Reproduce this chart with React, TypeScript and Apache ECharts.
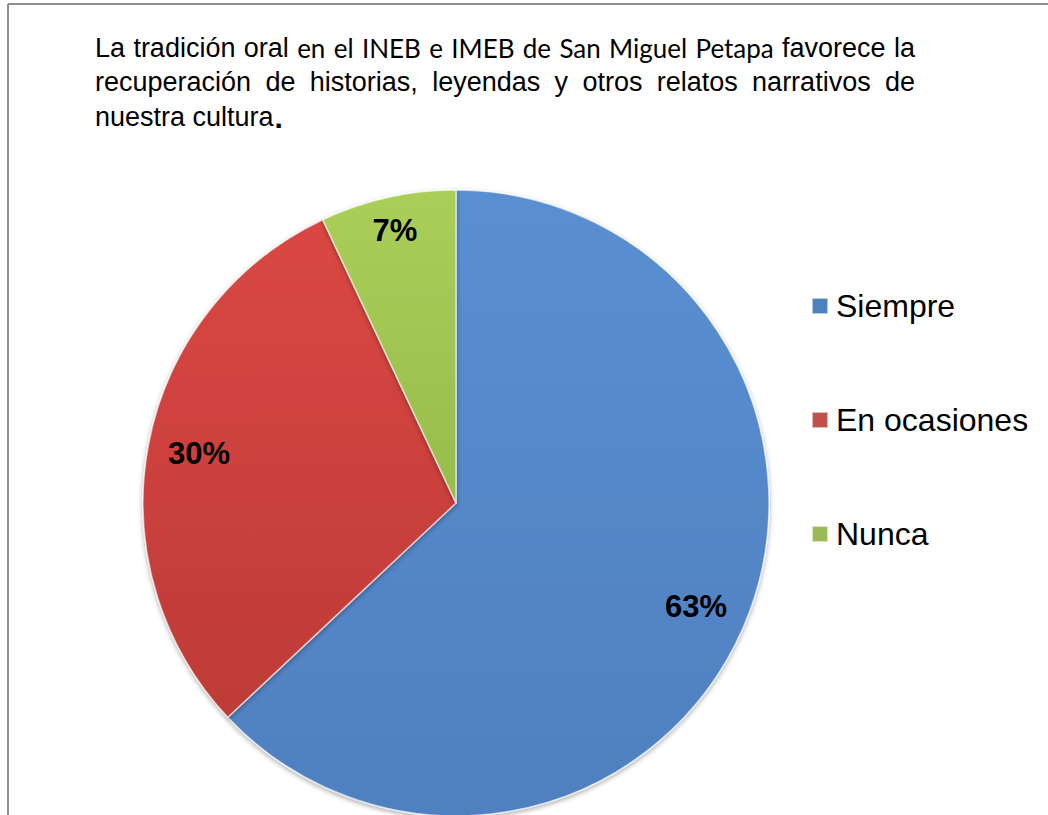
import React, { useEffect, useRef } from "react";
import * as echarts from "echarts";

const categories = ["Siempre", "En ocasiones", "Nunca"];
const values = [63, 30, 7];
const colorsTop = ["#5A8FD2", "#DA4743", "#AACE58"];
const colorsBottom = ["#4F80C0", "#BE3B38", "#98BC4C"];
const legendColors = ["#4F81BD", "#C0504D", "#9BBB59"];

const line1A = ["La", "tradición", "oral"];
const line1B = ["en", "el", "INEB", "e", "IMEB", "de", "San", "Miguel", "Petapa"];
const line1C = ["favorece", "la"];
const line2 = ["recuperación", "de", "historias,", "leyendas", "y", "otros", "relatos", "narrativos", "de"];
const line3 = "nuestra cultura";
const line3End = ".";

const ARIAL = "Arial, 'Liberation Sans', sans-serif";
const CALIBRI = "Lato, 'Noto Sans', sans-serif";

type Word = { text: string; family: string; size: number; weight?: string };

function measure(w: Word): number {
  const ctx = document.createElement("canvas").getContext("2d")!;
  ctx.font = `${w.weight || "normal"} ${w.size}px ${w.family}`;
  return ctx.measureText(w.text).width;
}

function justify(words: Word[], x0: number, x1: number, y: number) {
  const widths = words.map(measure);
  const total = widths.reduce((a, b) => a + b, 0);
  const gap = (x1 - x0 - total) / (words.length - 1);
  let x = x0;
  return words.map((w, i) => {
    const el = {
      type: "text",
      x,
      y,
      style: {
        text: w.text,
        fontFamily: w.family,
        fontSize: w.size,
        fontWeight: w.weight || "normal",
        fill: "#000",
        align: "left",
        verticalAlign: "middle",
      },
    };
    x += widths[i] + gap;
    return el;
  });
}

export default function App() {
  const ref = useRef<HTMLDivElement>(null);
  useEffect(() => {
    if (!ref.current) return;
    const chart = echarts.init(ref.current, undefined, { renderer: "svg" });
    const TX0 = 95;
    const TX1 = 915;
    const TS = 27;
    // Calibri-like run: size chosen so its natural width matches Calibri metrics (~16.25em)
    const calWidth = measure({ text: line1B.join(" "), family: CALIBRI, size: TS });
    const calSize = (TS * (16.25 * 28.5)) / calWidth;
    const w1: Word[] = [
      ...line1A.map((t) => ({ text: t, family: ARIAL, size: TS })),
      ...line1B.map((t) => ({ text: t, family: CALIBRI, size: calSize })),
      ...line1C.map((t) => ({ text: t, family: ARIAL, size: TS })),
    ];
    const w2: Word[] = line2.map((t) => ({ text: t, family: ARIAL, size: TS }));
    const l3w = measure({ text: line3, family: ARIAL, size: TS });
    const elements: any[] = [
      { type: "line", shape: { x1: 8, y1: 4, x2: 1048, y2: 4 }, style: { stroke: "#8e8e8e", lineWidth: 2 } },
      { type: "line", shape: { x1: 8, y1: 4, x2: 8, y2: 815 }, style: { stroke: "#8e8e8e", lineWidth: 2 } },
      ...justify(w1, TX0, TX1, 48),
      ...justify(w2, TX0, TX1, 82),
      {
        type: "text",
        x: TX0,
        y: 117,
        style: { text: line3, fontFamily: ARIAL, fontSize: TS, fill: "#000", verticalAlign: "middle" },
      },
      {
        type: "text",
        x: TX0 + l3w + 1,
        y: 117,
        style: { text: line3End, fontFamily: ARIAL, fontSize: 30, fontWeight: "bold", fill: "#000", verticalAlign: "middle" },
      },
    ];
    const grad = (i: number) => ({
      type: "linear",
      x: 0,
      y: 0,
      x2: 0,
      y2: 1,
      colorStops: [
        { offset: 0, color: colorsTop[i] },
        { offset: 1, color: colorsBottom[i] },
      ],
    });
    const data = categories.map((n, i) => ({ name: n, value: values[i], itemStyle: { color: grad(i) } }));
    const labelStyle = {
      position: "inside",
      formatter: (p: any) => `${p.value}%`,
      fontSize: 31,
      fontWeight: "bold",
      fontFamily: ARIAL,
      color: "#000",
    };
    const labelRing = (inner: number, shown: number[]) => ({
      type: "pie",
      center: [456, 503],
      radius: [inner, 313],
      startAngle: 90,
      clockwise: true,
      silent: true,
      legendHoverLink: false,
      data: categories.map((n, i) => ({
        name: n,
        value: values[i],
        label: { show: shown.includes(i) },
      })),
      itemStyle: { color: "transparent", borderWidth: 0 },
      label: { show: true, ...labelStyle },
      labelLine: { show: false },
      emphasis: { disabled: true },
      z: 3,
    });
    chart.setOption({
      animation: false,
      backgroundColor: "#fff",
      color: legendColors,
      legend: {
        orient: "vertical",
        left: 811,
        top: 288,
        padding: 0,
        itemWidth: 16,
        itemHeight: 16,
        itemGap: 78,
        icon: "rect",
        selectedMode: false,
        data: categories.map((n, i) => ({ name: n, itemStyle: { color: legendColors[i] } })),
        textStyle: { fontSize: 32, fontFamily: ARIAL, color: "#000", lineHeight: 36, padding: [0, 0, 0, 3] },
      },
      graphic: { elements },
      series: [
        {
          type: "pie",
          center: [456, 503],
          radius: 313,
          startAngle: 90,
          clockwise: true,
          data,
          label: { show: false },
          labelLine: { show: false },
          itemStyle: {
            borderColor: "rgba(255,255,255,0.6)",
            borderWidth: 1.5,
            shadowBlur: 5,
            shadowColor: "rgba(0,0,0,0.35)",
            shadowOffsetY: 2,
          },
          emphasis: { disabled: true },
        },
        labelRing(204, [0, 1]),
        labelRing(240, [2]),
      ],
    });
    return () => chart.dispose();
  }, []);
  return <div ref={ref} style={{ position: "fixed", left: 0, top: 0, width: 1048, height: 815 }} />;
}
